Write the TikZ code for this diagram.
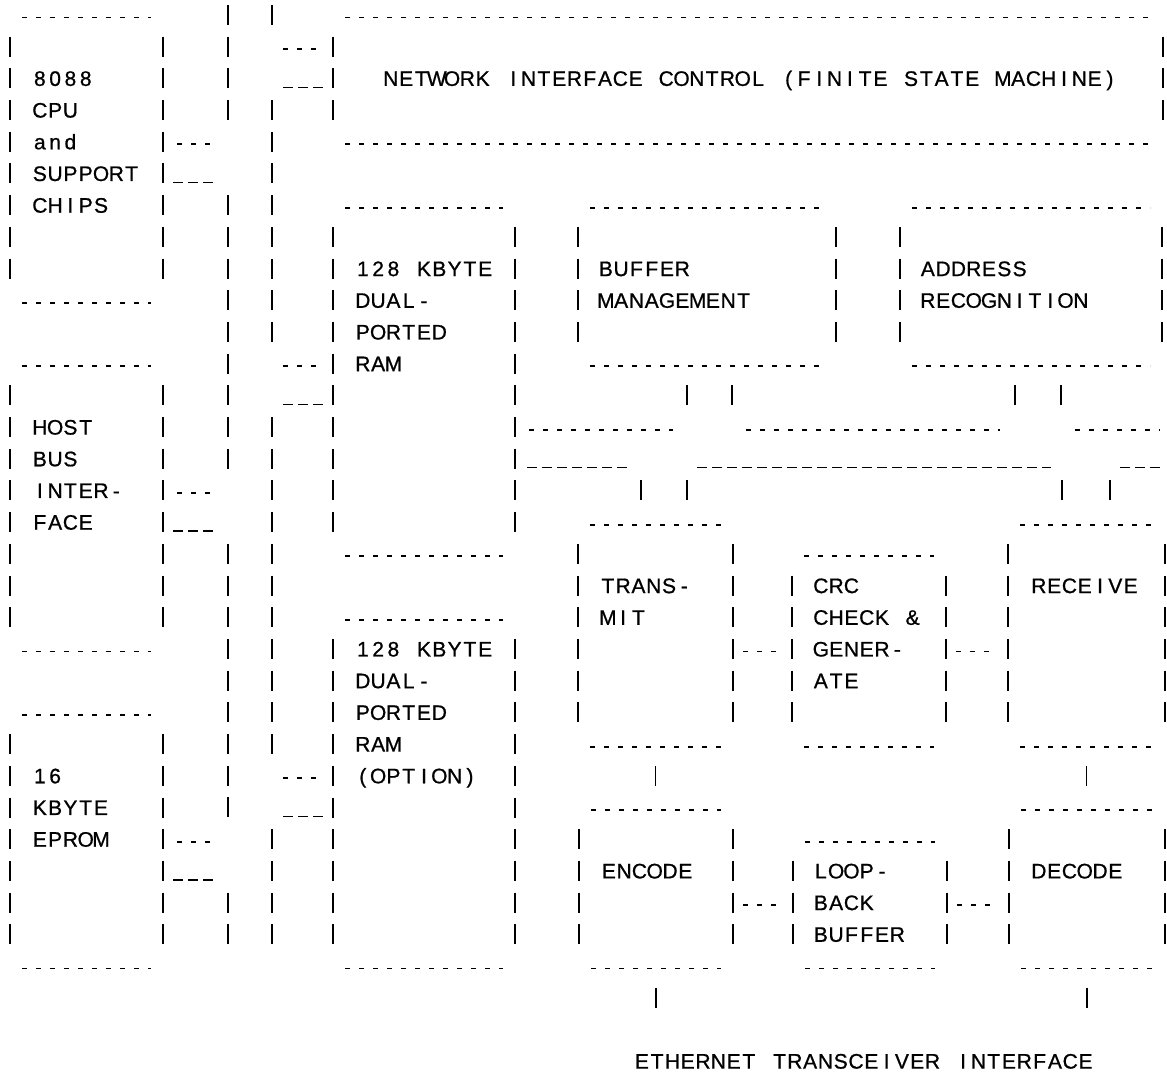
\documentclass[tikz,border=0pt]{standalone}
\usepackage{fontspec}
\setmainfont{Liberation Sans}[FakeBold=0.8]
\usetikzlibrary{fit}

% fixed pitch lettering, one cell per character
\newlength\cellw
\setlength\cellw{15.3pt}
\ExplSyntaxOn
\cs_new_protected:Npn \monoline #1
  { \exp_args:No \str_map_inline:nn {#1} { \makebox[\cellw]{##1} } }
\ExplSyntaxOff

\tikzset{
  dots/.style={line width=1.9pt, dash pattern=on 5pt off 9pt},
  unders/.style={line width=1.5pt, dash pattern=on 10pt off 5pt},
  bars/.style={line width=1.8pt, dash pattern=on 20pt off 11.7pt},
  txt/.style={anchor=base west, inner sep=0pt, yshift=-7.5pt,
    font=\fontsize{21}{25}\selectfont},
  blk/.style={inner sep=0pt, outer sep=0pt, draw=none}
}

% name, left x, right x, top row, bottom row
\newcommand\asciibox[5]{%
  \coordinate (#1-nw) at (#2,#4);
  \coordinate (#1-se) at (#3,#5);
  \node[blk, fit=(#1-nw)(#1-se)] (#1) {};
  \draw[dots] ([xshift=12pt,yshift=-2.5pt]#1.north west) -- ([xshift=-12pt,yshift=-2.5pt]#1.north east);
  \draw[dots] ([xshift=12pt,yshift=-2.5pt]#1.south west) -- ([xshift=-12pt,yshift=-2.5pt]#1.south east);
  \draw[bars] ([yshift=-21.7pt]#1.north west) -- ([yshift=21.7pt]#1.south west);
  \draw[bars] ([yshift=-21.7pt]#1.north east) -- ([yshift=21.7pt]#1.south east);
}

% name, x, first row, lines
\newcommand\boxtext[4]{%
  \foreach \word [count=\i from 0] in {#4}
    \node[txt] (#1-t\i) at (#2,#3+\i) {\monoline{\word}};
}

\begin{document}
\begin{tikzpicture}[x=1pt, y=-31.7pt]
\useasboundingbox (0,-0.473) rectangle (1167,33.344);

% left column
\asciibox{cpu}{10}{163}{0}{9}
\asciibox{host}{10}{163}{11}{20}
\asciibox{eprom}{10}{163}{22}{30}
\boxtext{cpu}{32}{2}{8088,CPU,and,SUPPORT,CHIPS}
\boxtext{host}{32}{13}{HOST,BUS,INTER-,FACE}
\boxtext{eprom}{32}{24}{16,KBYTE,EPROM}

% system bus, two walls
\coordinate (busl) at (228,0);
\coordinate (busr) at (272,0);
\foreach \a/\b in {0/3,6/14,17/25,28/29}
  \draw[bars] (228,\a-.3155) -- (228,\b+.3155);
\foreach \a/\b in {0/0,3/10,13/23,26/29}
  \draw[bars] (272,\a-.3155) -- (272,\b+.3155);

% memory and control
\asciibox{net}{333}{1163}{0}{4}
\asciibox{ram}{333}{515}{6}{17}
\asciibox{ramopt}{333}{515}{19}{30}
\boxtext{net}{383}{2}{NETWORK INTERFACE CONTROL (FINITE STATE MACHINE)}
\boxtext{ram}{355}{8}{128 KBYTE,DUAL-,PORTED,RAM}
\boxtext{ramopt}{355}{20}{128 KBYTE,DUAL-,PORTED,RAM,(OPTION)}

\foreach \n/\r in {cpu/4,host/15,eprom/26} {
  \draw[dots, shorten <=14pt, shorten >=18pt] (\n.east |- 0,\r+.08) -- (busl |- 0,\r+.08);
  \draw[unders, shorten <=10pt, shorten >=13pt] (\n.east |- 0,\r+1.28) -- (busl |- 0,\r+1.28);
}
\foreach \n/\r in {net/1,ram/11,ramopt/24} {
  \draw[dots, shorten <=11pt, shorten >=16pt] (busr |- 0,\r+.08) -- (\n.west |- 0,\r+.08);
  \draw[unders, shorten <=11pt, shorten >=10pt] (busr |- 0,\r+1.28) -- (\n.west |- 0,\r+1.28);
}

% buffer and address
\asciibox{buf}{578}{836}{6}{11}
\asciibox{addr}{900}{1162}{6}{11}
\boxtext{buf}{598}{8}{BUFFER,MANAGEMENT}
\boxtext{addr}{920}{8}{ADDRESS,RECOGNITION}

% internal bus
\foreach \a/\b in {529/673,746/1000,1075/1160}
  \draw[dots] (\a,13.08) -- (\b,13.08);
\foreach \a/\b in {527/629,697/1051,1120/1160}
  \draw[unders] (\a,14.28) -- (\b,14.28);
\foreach \x in {687,732,1015,1061}
  \draw[bars] (\x,11.6845) -- (\x,12.3155);
\foreach \x in {641,687,1062,1110}
  \draw[bars] (\x,14.6845) -- (\x,15.3155);

% serial side
\asciibox{xmit}{578}{733}{16}{23}
\asciibox{crc}{792}{946}{17}{23}
\asciibox{recv}{1008}{1165}{16}{23}
\asciibox{enc}{579}{733}{25}{30}
\asciibox{loop}{793}{947}{26}{30}
\asciibox{dec}{1009}{1165}{25}{30}
\boxtext{xmit}{600}{18}{TRANS-,MIT}
\boxtext{crc}{813}{18}{CRC,CHECK &,GENER-,ATE}
\boxtext{recv}{1031}{18}{RECEIVE}
\boxtext{enc}{601}{27}{ENCODE}
\boxtext{loop}{813}{27}{LOOP-,BACK,BUFFER}
\boxtext{dec}{1031}{27}{DECODE}

\draw[dots, shorten <=10pt, shorten >=11pt] (xmit.east |- 0,20.08) -- (crc.west |- 0,20.08);
\draw[dots, shorten <=10pt, shorten >=11pt] (crc.east |- 0,20.08) -- (recv.west |- 0,20.08);
\draw[dots, shorten <=10pt, shorten >=11pt] (enc.east |- 0,28.08) -- (loop.west |- 0,28.08);
\draw[dots, shorten <=10pt, shorten >=11pt] (loop.east |- 0,28.08) -- (dec.west |- 0,28.08);

\foreach \n in {xmit,recv,enc,dec}
  \draw[bars] ([yshift=-21.7pt]\n.south) -- ([yshift=-41.7pt]\n.south);

\node[txt] (eth) at (634,33) {\monoline{ETHERNET TRANSCEIVER INTERFACE}};
\end{tikzpicture}
\end{document}
